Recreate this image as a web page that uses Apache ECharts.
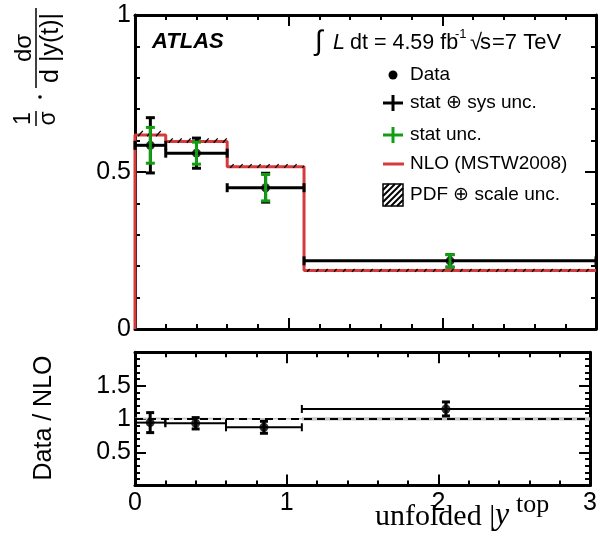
<!DOCTYPE html>
<html>
<head>
<meta charset="utf-8">
<script src="https://cdn.jsdelivr.net/npm/echarts@6/dist/echarts.min.js"></script>
<style>
  html, body { margin: 0; padding: 0; background: #fff; }
  #chart { width: 600px; height: 556px; }
</style>
</head>
<body>
<div id="chart"></div>
<script>
// Normalised top-quark rapidity cross-section, ATLAS 7 TeV
const binEdges   = [0, 0.2, 0.6, 1.1, 3];
const binCenters = [0.1, 0.4, 0.85, 2.05];
const xsec       = [0.585, 0.56, 0.45, 0.217];
const errTotal   = [0.088, 0.048, 0.046, 0.02];
const errStat    = [0.057, 0.035, 0.042, 0.02];
const nlo        = [0.618, 0.597, 0.517, 0.186];
const nloUp      = [0.013, 0.010, 0.008, 0.005];
const nloDown    = [0.004, 0.004, 0.004, 0.004];
const ratio      = [0.945, 0.935, 0.875, 1.15];
const ratioErr   = [0.15, 0.085, 0.09, 0.105];
const ratioRef   = 1;
const topYTicks   = [0, 0.5, 1];
const ratioYTicks = [0.5, 1, 1.5];
const xTicks      = [0, 1, 2, 3];

const FONT = '"Liberation Sans", Arial, Helvetica, sans-serif';
const SERIF = '"Liberation Serif", "Times New Roman", serif';
const RED = '#d63a3a';
const GREEN = '#129e12';

const chart = echarts.init(document.getElementById('chart'), null, { renderer: 'canvas' });

function xAxisDef(grid, pos, withLabels) {
  return {
    type: 'value', gridIndex: grid, position: pos, min: 0, max: 3, interval: 1,
    axisLine: { show: true, onZero: false, lineStyle: { color: '#000', width: 3 } },
    axisTick: { show: true, inside: true, length: 11, lineStyle: { color: '#000', width: 2 } },
    minorTick: { show: true, splitNumber: 5, length: 5, lineStyle: { color: '#000', width: 2 } },
    splitLine: { show: false }, minorSplitLine: { show: false },
    axisLabel: withLabels ? {
      show: true, color: '#000', fontFamily: FONT, fontSize: 25, margin: 5,
      showMinLabel: true, showMaxLabel: true,
      formatter: v => xTicks.includes(v) ? String(v) : ''
    } : { show: false }
  };
}
function yAxisDef(grid, pos, min, max, ticks) {
  return {
    type: 'value', gridIndex: grid, position: pos, min: min, max: max, interval: 0.5,
    axisLine: { show: true, onZero: false, lineStyle: { color: '#000', width: 3 } },
    axisTick: { show: true, inside: true, length: 11, lineStyle: { color: '#000', width: 2 } },
    minorTick: { show: true, splitNumber: 5, length: 5, lineStyle: { color: '#000', width: 2 } },
    splitLine: { show: false }, minorSplitLine: { show: false },
    axisLabel: ticks ? {
      show: true, color: '#000', fontFamily: FONT, fontSize: 25, margin: 4,
      showMinLabel: true, showMaxLabel: true,
      formatter: v => ticks.includes(v) ? String(v) : ''
    } : { show: false }
  };
}

// error bar: horizontal bin extent with end caps + vertical error with caps
function errorBars(xi, yi, data, color, opts) {
  return {
    type: 'custom', xAxisIndex: xi, yAxisIndex: yi, z: opts.z, silent: true, clip: false,
    data: data,
    renderItem: (params, api) => {
      const xl = api.value(0), xh = api.value(1), xc = api.value(2), y = api.value(3), e = api.value(4);
      const st = { stroke: color, lineWidth: opts.vWidth };
      const sh = { stroke: color, lineWidth: opts.hWidth };
      const children = [];
      const pT = api.coord([xc, y + e]), pB = api.coord([xc, y - e]);
      const cap = opts.cap;
      if (opts.horizontal) {
        const pL = api.coord([xl, y]), pH = api.coord([xh, y]);
        children.push({ type: 'line', shape: { x1: pL[0], y1: pL[1], x2: pH[0], y2: pH[1] }, style: sh });
        children.push({ type: 'line', shape: { x1: pL[0], y1: pL[1] - cap, x2: pL[0], y2: pL[1] + cap }, style: sh });
        children.push({ type: 'line', shape: { x1: pH[0], y1: pH[1] - cap, x2: pH[0], y2: pH[1] + cap }, style: sh });
      }
      children.push({ type: 'line', shape: { x1: pT[0], y1: pT[1], x2: pB[0], y2: pB[1] }, style: st });
      children.push({ type: 'line', shape: { x1: pT[0] - cap, y1: pT[1], x2: pT[0] + cap, y2: pT[1] }, style: st });
      children.push({ type: 'line', shape: { x1: pB[0] - cap, y1: pB[1], x2: pB[0] + cap, y2: pB[1] }, style: st });
      return { type: 'group', children: children };
    }
  };
}

// hatched band
function hatchBand(xi, yi, data, z) {
  return {
    type: 'custom', xAxisIndex: xi, yAxisIndex: yi, z: z, silent: true,
    data: data,
    renderItem: (params, api) => {
      const p0 = api.coord([api.value(0), api.value(3)]);
      const p1 = api.coord([api.value(1), api.value(2)]);
      const h = p1[1] - p0[1];
      const children = [];
      for (let x = p0[0] + 3; x < p1[0] - 1; x += 9) {
        const x2 = Math.min(x + h * 0.9, p1[0]);
        const dy = (x2 - x) / 0.9;
        children.push({ type: 'line', shape: { x1: x, y1: p1[1], x2: x2, y2: p1[1] - dy },
          style: { stroke: '#000', lineWidth: 1.3 } });
      }
      return { type: 'group', children: children };
    }
  };
}

// grey filled band
function fillBand(xi, yi, data, z) {
  return {
    type: 'custom', xAxisIndex: xi, yAxisIndex: yi, z: z, silent: true,
    data: data,
    renderItem: (params, api) => {
      const p0 = api.coord([api.value(0), api.value(3)]);
      const p1 = api.coord([api.value(1), api.value(2)]);
      return { type: 'rect', shape: { x: p0[0], y: p0[1], width: p1[0] - p0[0], height: p1[1] - p0[1] },
        style: { fill: '#c4c4c4' } };
    }
  };
}

const nloStep = [[binEdges[0], 0]].concat(nlo.map((v, i) => [binEdges[i], v]), [[binEdges[binEdges.length - 1], nlo[nlo.length - 1]]]);

// hatched legend box
function hatchBox(x0, y0, w, h, step) {
  const x1 = x0 + w, y1 = y0 + h;
  const els = [{ type: 'rect', shape: { x: x0, y: y0, width: w, height: h }, style: { fill: 'none', stroke: '#000', lineWidth: 1.5 } }];
  for (let c = x0 + y0 + step; c < x1 + y1; c += step) {
    const xa = Math.max(x0, c - y1), xb = Math.min(x1, c - y0);
    if (xb <= xa) continue;
    els.push({ type: 'line', shape: { x1: xa, y1: c - xa, x2: xb, y2: c - xb }, style: { stroke: '#000', lineWidth: 2 } });
  }
  return els;
}

function txt(x, y, s, size, extra) {
  return {
    type: 'text', x: x, y: y, silent: true,
    style: Object.assign({ text: s, fill: '#000', fontFamily: FONT, fontSize: size,
      align: 'left', verticalAlign: 'middle', textAlign: 'left', textVerticalAlign: 'middle' }, extra || {})
  };
}

const legendY = [75, 103, 135, 164, 195];
const legendX = 393, legendTextX = 410;

const ratioTitle = txt(44, 418, 'Data / NLO', 25, { align: 'center', textAlign: 'center' });
ratioTitle.rotation = Math.PI / 2;

const graphics = [
  txt(152, 42, 'ATLAS', 22, { fontWeight: 'bold', fontStyle: 'italic' }),
  txt(315, 42, '∫', 28),
  txt(333, 43, 'L', 21.5, { fontStyle: 'italic' }),
  txt(350, 43, 'dt = 4.59 fb', 21.5),
  txt(455, 34, '-1', 13),
  txt(470, 43, '√', 22),
  txt(480, 43, 's', 22),
  txt(492, 43, '=7 TeV', 22),
  { type: 'circle', shape: { cx: legendX, cy: legendY[0], r: 4.5 }, style: { fill: '#000' } },
  { type: 'line', shape: { x1: 383, y1: legendY[1], x2: 403, y2: legendY[1] }, style: { stroke: '#000', lineWidth: 3 } },
  { type: 'line', shape: { x1: legendX, y1: legendY[1] - 8, x2: legendX, y2: legendY[1] + 8 }, style: { stroke: '#000', lineWidth: 3 } },
  { type: 'line', shape: { x1: 383, y1: legendY[2], x2: 403, y2: legendY[2] }, style: { stroke: GREEN, lineWidth: 3 } },
  { type: 'line', shape: { x1: legendX, y1: legendY[2] - 8, x2: legendX, y2: legendY[2] + 8 }, style: { stroke: GREEN, lineWidth: 3 } },
  { type: 'line', shape: { x1: 383, y1: legendY[3], x2: 404, y2: legendY[3] }, style: { stroke: RED, lineWidth: 3 } },
  ...hatchBox(383, legendY[4] - 11, 20, 22, 6),
  txt(legendTextX, legendY[0], 'Data', 19),
  txt(legendTextX, legendY[1], 'stat ⊕ sys unc.', 19),
  txt(legendTextX, legendY[2], 'stat unc.', 19),
  txt(legendTextX, legendY[3], 'NLO (MSTW2008)', 19),
  txt(legendTextX, legendY[4], 'PDF ⊕ scale unc.', 19),
  // cross-section axis title, drawn as stacked fractions turned upright
  {
    type: 'group', x: 36, y: 95, rotation: Math.PI / 2, silent: true,
    children: [
      txt(-23.5, -12, '1', 23, { align: 'center', textAlign: 'center' }),
      { type: 'line', shape: { x1: -31, y1: 0, x2: -16, y2: 0 }, style: { stroke: '#000', lineWidth: 1.5 } },
      txt(-23.5, 13, 'σ', 23, { align: 'center', textAlign: 'center' }),
      { type: 'circle', shape: { cx: -2, cy: 4, r: 1.8 }, style: { fill: '#000' } },
      txt(47, -12, 'dσ', 24, { align: 'center', textAlign: 'center' }),
      { type: 'line', shape: { x1: 7, y1: 0, x2: 87, y2: 0 }, style: { stroke: '#000', lineWidth: 1.5 } },
      txt(47, 15, 'd |y(t)|', 25, { align: 'center', textAlign: 'center' })
    ]
  },
  ratioTitle,
  txt(375, 517, '', 30, {
    text: '{a|unfolded |}',
    rich: { a: { fontFamily: SERIF, fontSize: 30, fill: '#000' } }
  }),
  txt(495, 516, 'y', 32, { fontFamily: SERIF, fontStyle: 'italic' }),
  txt(516, 505, 'top', 26, { fontFamily: SERIF })
];

const option = {
  animation: false,
  backgroundColor: '#fff',
  grid: [
    { left: 135, right: 4, top: 15, height: 314 },
    { left: 135, right: 4, top: 352.3, height: 133.3 }
  ],
  xAxis: [
    xAxisDef(0, 'bottom', false), xAxisDef(0, 'top', false),
    xAxisDef(1, 'bottom', true), xAxisDef(1, 'top', false)
  ],
  yAxis: [
    yAxisDef(0, 'left', 0, 1, topYTicks), yAxisDef(0, 'right', 0, 1, null),
    yAxisDef(1, 'left', 0, 2, ratioYTicks), yAxisDef(1, 'right', 0, 2, null)
  ],
  series: [
    { type: 'line', xAxisIndex: 0, yAxisIndex: 0, step: 'end', symbol: 'none', silent: true, z: 2,
      data: nloStep, lineStyle: { color: RED, width: 3 } },
    hatchBand(0, 0, nlo.map((v, i) => [binEdges[i], binEdges[i + 1], v - nloDown[i], v + nloUp[i]]), 3),
    errorBars(0, 0, xsec.map((v, i) => [binEdges[i], binEdges[i + 1], binCenters[i], v, errTotal[i]]), '#000',
      { z: 4, horizontal: true, vWidth: 3, hWidth: 3, cap: 4.5 }),
    { type: 'scatter', xAxisIndex: 0, yAxisIndex: 0, z: 5, silent: true, symbol: 'circle', symbolSize: 9,
      itemStyle: { color: '#000' }, data: binCenters.map((x, i) => [x, xsec[i]]) },
    errorBars(0, 0, xsec.map((v, i) => [binEdges[i], binEdges[i + 1], binCenters[i], v, errStat[i]]), GREEN,
      { z: 6, horizontal: false, vWidth: 3, hWidth: 3, cap: 4.5 }),

    fillBand(2, 2, nlo.map((v, i) => [binEdges[i], binEdges[i + 1], ratioRef - nloDown[i] / v, ratioRef + nloUp[i] / v]), 1),
    { type: 'line', xAxisIndex: 2, yAxisIndex: 2, symbol: 'none', silent: true, z: 2,
      data: [[binEdges[0], ratioRef], [binEdges[binEdges.length - 1], ratioRef]],
      lineStyle: { color: '#000', width: 2, type: [8, 5] } },
    errorBars(2, 2, ratio.map((v, i) => [binEdges[i], binEdges[i + 1], binCenters[i], v, ratioErr[i]]), '#000',
      { z: 3, horizontal: true, vWidth: 3, hWidth: 2, cap: 4 }),
    { type: 'scatter', xAxisIndex: 2, yAxisIndex: 2, z: 4, silent: true, symbol: 'circle', symbolSize: 9,
      itemStyle: { color: '#000' }, data: binCenters.map((x, i) => [x, ratio[i]]) }
  ],
  graphic: { elements: graphics }
};

chart.setOption(option);
</script>
</body>
</html>
